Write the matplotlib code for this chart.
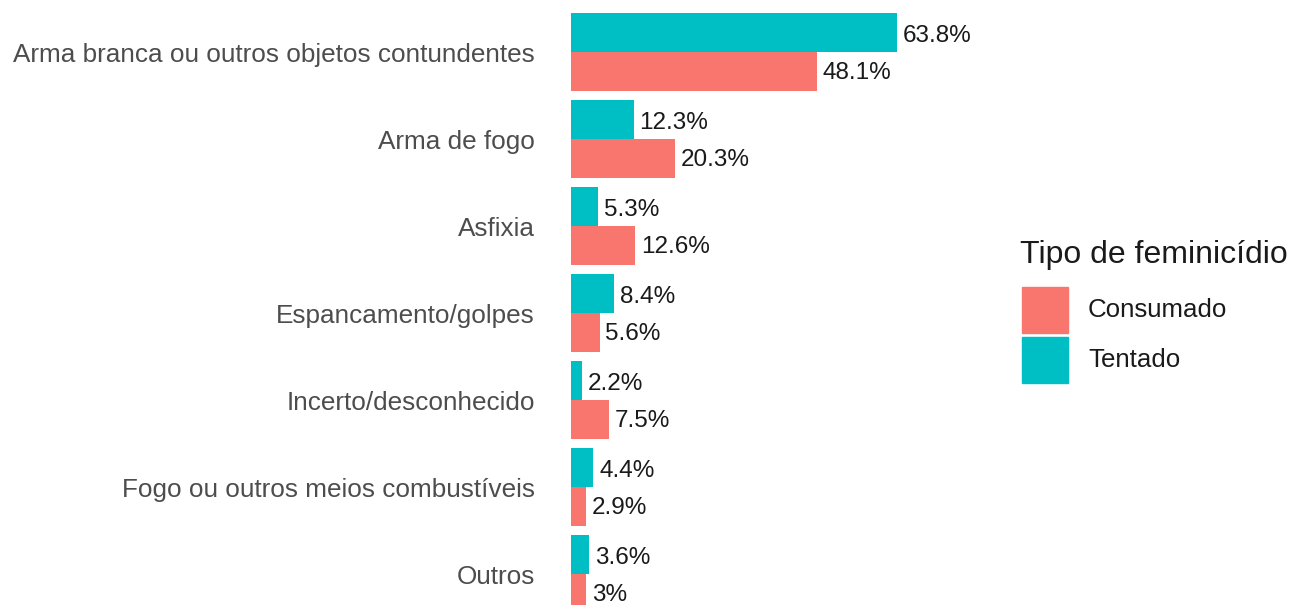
import matplotlib.pyplot as plt
from matplotlib.patches import Rectangle

plt.rcParams['font.family'] = ['Liberation Sans', 'DejaVu Sans']

categorias = ['Arma branca ou outros objetos contundentes', 'Arma de fogo', 'Asfixia',
              'Espancamento/golpes', 'Incerto/desconhecido',
              'Fogo ou outros meios combustíveis', 'Outros']
tentado = [63.8, 12.3, 5.3, 8.4, 2.2, 4.4, 3.6]
consumado = [48.1, 20.3, 12.6, 5.6, 7.5, 2.9, 3.0]
rotulos_tentado = ['63.8%', '12.3%', '5.3%', '8.4%', '2.2%', '4.4%', '3.6%']
rotulos_consumado = ['48.1%', '20.3%', '12.6%', '5.6%', '7.5%', '2.9%', '3%']
legenda = ['Consumado', 'Tentado']

cor_consumado = '#F8766D'
cor_tentado = '#00BFC4'

W, H = 1295, 605
fig = plt.figure(figsize=(W / 100, H / 100), dpi=100)
ax = fig.add_axes([571 / W, 0, 429 / W, 1])

y = list(range(len(categorias)))
h = 0.45
y_t = [i - h / 2 for i in y]
y_c = [i + h / 2 for i in y]
ax.barh(y_t, tentado, height=h, color=cor_tentado)
ax.barh(y_c, consumado, height=h, color=cor_consumado)

for yy, v, s in zip(y_t, tentado, rotulos_tentado):
    ax.text(v + 1.1, yy + 0.04, s, va='center', ha='left', fontsize=17.5, color='#1a1a1a')
for yy, v, s in zip(y_c, consumado, rotulos_consumado):
    ax.text(v + 1.1, yy + 0.02, s, va='center', ha='left', fontsize=17.5, color='#1a1a1a')

ax.set_xlim(0, 429 / 5.11)
ax.set_ylim(6.356, -0.598)
ax.set_yticks(y)
ax.set_yticklabels(categorias, fontsize=18.8, color='#4d4d4d')
ax.tick_params(axis='y', length=0, pad=26)
ax.set_xticks([])
for _, v in ax.spines.items():
    v.set_visible(False)

# legenda desenhada à mão (estilo ggplot)
fig.text(1020 / W, 1 - 255 / H, 'Tipo de feminicídio', fontsize=23, color='#1a1a1a',
         ha='left', va='center')
for k, (lab, cor) in enumerate(zip(legenda, [cor_consumado, cor_tentado])):
    top = 287 + 50 * k
    fig.patches.append(Rectangle((1022 / W, 1 - (top + 46) / H), 46 / W, 46 / H,
                                 transform=fig.transFigure, color=cor))
    fig.text(1088 / W, 1 - (top + 23) / H, lab, fontsize=18.6, color='#1a1a1a',
             ha='left', va='center')

fig.savefig('out.png', dpi=100)
